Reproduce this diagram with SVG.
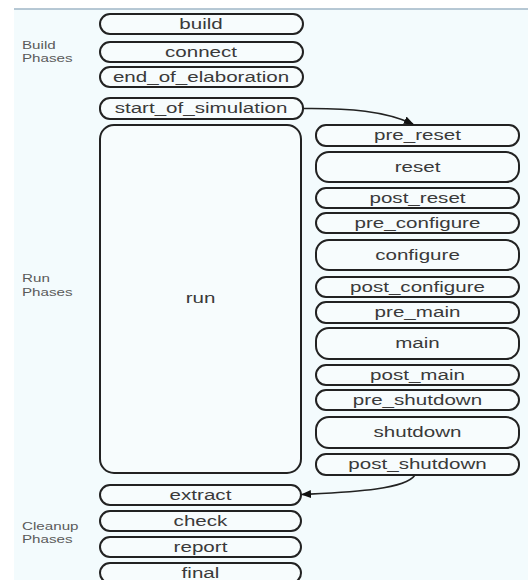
<svg xmlns="http://www.w3.org/2000/svg" width="528" height="580" viewBox="0 0 528 580">
<defs>
<style>
.n rect{fill:#f7fcfd;stroke:#222;stroke-width:2}
.n text{font-family:"Liberation Sans",Arial,sans-serif;font-size:14.5px;fill:#3a3a3a;text-anchor:middle;dominant-baseline:central}
.lbl{font-family:"Liberation Sans",Arial,sans-serif;font-size:11px;fill:#5a5a5a}
.c path{fill:none;stroke:#222;stroke-width:1.6}
</style>
<marker id="ah" viewBox="0 0 10 10" refX="9" refY="5" markerWidth="10" markerHeight="10" orient="auto" markerUnits="userSpaceOnUse"><path d="M0,1 L10,5 L0,9 z" fill="#111"/></marker>
</defs>
<rect x="0" y="0" width="528" height="580" fill="#fff"/>
<rect x="14" y="9" width="520" height="580" fill="#f3fbfd"/>
<line x1="14" y1="9" x2="528" y2="9" stroke="#9fb6c6" stroke-width="1.5"/>
<text class="lbl" transform="translate(22,49) scale(1.38,1)">Build</text>
<text class="lbl" transform="translate(22,62) scale(1.38,1)">Phases</text>
<text class="lbl" transform="translate(22,282) scale(1.38,1)">Run</text>
<text class="lbl" transform="translate(22,296) scale(1.38,1)">Phases</text>
<text class="lbl" transform="translate(22,530) scale(1.38,1)">Cleanup</text>
<text class="lbl" transform="translate(22,543) scale(1.38,1)">Phases</text>
<g id="build" class="n"><rect x="100" y="14" width="203" height="20" rx="10"/><text transform="translate(201,24) scale(1.42,1)">build</text></g>
<g id="connect" class="n"><rect x="100" y="42" width="203" height="20" rx="10"/><text transform="translate(201,52) scale(1.42,1)">connect</text></g>
<g id="end_of_elaboration" class="n"><rect x="100" y="67" width="203" height="20" rx="10"/><text transform="translate(201,77) scale(1.42,1)">end_of_elaboration</text></g>
<g id="start_of_simulation" class="n"><rect x="100" y="98" width="203" height="21" rx="10"/><text transform="translate(201,108.5) scale(1.42,1)">start_of_simulation</text></g>
<g id="run" class="n"><rect x="100" y="125" width="201" height="348" rx="14"/><text transform="translate(200.5,298) scale(1.42,1)">run</text></g>
<g id="pre_reset" class="n"><rect x="316" y="125" width="203" height="21" rx="10"/><text transform="translate(417.5,135.5) scale(1.42,1)">pre_reset</text></g>
<g id="reset" class="n"><rect x="316" y="152" width="203" height="30" rx="13"/><text transform="translate(417.5,167) scale(1.42,1)">reset</text></g>
<g id="post_reset" class="n"><rect x="316" y="188" width="203" height="20" rx="10"/><text transform="translate(417.5,198) scale(1.42,1)">post_reset</text></g>
<g id="pre_configure" class="n"><rect x="316" y="213" width="203" height="20" rx="10"/><text transform="translate(417.5,223) scale(1.42,1)">pre_configure</text></g>
<g id="configure" class="n"><rect x="316" y="240" width="203" height="30" rx="13"/><text transform="translate(417.5,255) scale(1.42,1)">configure</text></g>
<g id="post_configure" class="n"><rect x="316" y="277" width="203" height="20" rx="10"/><text transform="translate(417.5,287) scale(1.42,1)">post_configure</text></g>
<g id="pre_main" class="n"><rect x="316" y="302" width="203" height="21" rx="10"/><text transform="translate(417.5,312.5) scale(1.42,1)">pre_main</text></g>
<g id="main" class="n"><rect x="316" y="328" width="203" height="31" rx="13"/><text transform="translate(417.5,343.5) scale(1.42,1)">main</text></g>
<g id="post_main" class="n"><rect x="316" y="365" width="203" height="20" rx="10"/><text transform="translate(417.5,375) scale(1.42,1)">post_main</text></g>
<g id="pre_shutdown" class="n"><rect x="316" y="390" width="203" height="20" rx="10"/><text transform="translate(417.5,400) scale(1.42,1)">pre_shutdown</text></g>
<g id="shutdown" class="n"><rect x="316" y="417" width="203" height="31" rx="13"/><text transform="translate(417.5,432.5) scale(1.42,1)">shutdown</text></g>
<g id="post_shutdown" class="n"><rect x="316" y="454" width="203" height="21" rx="10"/><text transform="translate(417.5,464.5) scale(1.42,1)">post_shutdown</text></g>
<g id="extract" class="n"><rect x="100" y="485" width="201" height="20" rx="10"/><text transform="translate(200.5,495) scale(1.42,1)">extract</text></g>
<g id="check" class="n"><rect x="100" y="511" width="201" height="20" rx="10"/><text transform="translate(200.5,521) scale(1.42,1)">check</text></g>
<g id="report" class="n"><rect x="100" y="537" width="201" height="20" rx="10"/><text transform="translate(200.5,547) scale(1.42,1)">report</text></g>
<g id="final" class="n"><rect x="100" y="563" width="201" height="20" rx="10"/><text transform="translate(200.5,573) scale(1.42,1)">final</text></g>
<g id="connectors" class="c">
<path d="M303,108.5 C350,108 385,111 413,124" marker-end="url(#ah)"/>
<path d="M415,475 C405,490 350,492 302,494.5" marker-end="url(#ah)"/>
</g>
</svg>
